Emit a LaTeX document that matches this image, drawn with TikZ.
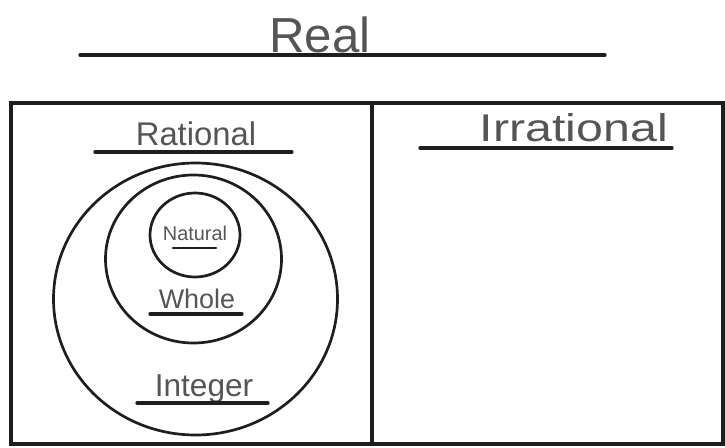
\documentclass[tikz,border=0pt]{standalone}
\usepackage{fontspec}
\setmainfont{Liberation Sans}
\usetikzlibrary{positioning}
\definecolor{ink}{HTML}{1E1E1E}
\definecolor{pencil}{HTML}{555555}
\tikzset{
  heavy/.style={draw=ink, line width=2.6pt, line cap=round},
  ring/.style={draw=ink, line width=2.3pt},
  rule/.style={draw=ink, line width=2.8pt, line cap=round},
  hand/.style={text=pencil, inner sep=0pt, anchor=base},
}

\begin{document}
\begin{tikzpicture}[x=0.03cm, y=-0.03cm]
  \useasboundingbox (0,0) rectangle (725,448);
  % title
  \node[hand, font=\fontsize{42}{42}\selectfont] (real) at (320,52) {Real};
  \draw[rule] (80,55) -- (605,55);
  % frame and divider
  \draw[heavy] (11,103) rectangle (723,444);
  \draw[heavy] (372,103) -- (372,444);
  % column heads
  \node[hand, font=\fontsize{28}{28}\selectfont] (rational) at (196,145) {Rational};
  \draw[rule] (95,152) -- (292,152);
  \node[hand, font=\fontsize{33}{33}\selectfont, xscale=1.25] (irrational) at (574,141) {Irrational};
  \draw[rule] (420,148) -- (672,148);
  % nested sets
  \draw[ring] (195.5,299) ellipse [x radius=142, y radius=136];
  \draw[ring] (193.5,259) ellipse [x radius=88, y radius=84];
  \draw[ring] (195,235) ellipse [x radius=45, y radius=42];
  \node[hand, font=\fontsize{17}{17}\selectfont] (natural) at (195,240) {Natural};
  \draw[rule, line width=2.2pt] (173,248) -- (216,248);
  \node[hand, font=\fontsize{23}{23}\selectfont] (whole) at (197,308) {Whole};
  \draw[rule] (150,314) -- (242,314);
  \node[hand, font=\fontsize{27}{27}\selectfont] (integer) at (204,396) {Integer};
  \draw[rule] (137,403) -- (268,403);
\end{tikzpicture}
\end{document}
